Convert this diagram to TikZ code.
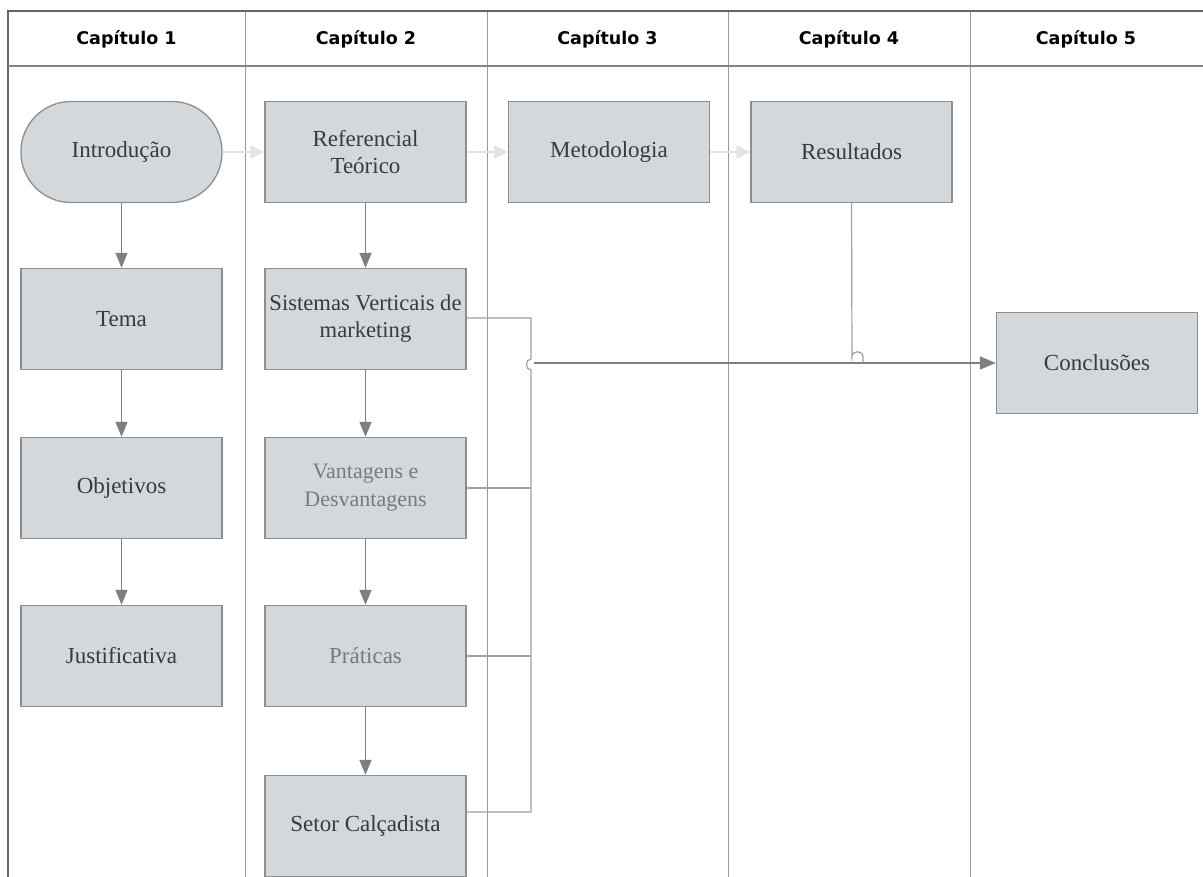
\documentclass[tikz,border=0pt]{standalone}
\usepackage{fontspec}
\usetikzlibrary{arrows.meta}
\newfontfamily\boxfont{Liberation Serif}
\newfontfamily\headfont{DejaVu Sans}
\definecolor{boxfill}{HTML}{D3D8DC}
\definecolor{boxline}{HTML}{8E8E8E}
\definecolor{txt}{HTML}{3A3A3A}
\definecolor{txtlight}{HTML}{7A7A7A}
\definecolor{arr}{HTML}{7F7F7F}
\definecolor{faint}{HTML}{E4E4E4}
\definecolor{lane}{HTML}{9A9A9A}
\definecolor{frame}{HTML}{666666}
\definecolor{link}{HTML}{A0A0A0}
\tikzset{
  stepbox/.style={draw=boxline, fill=boxfill, line width=1.3pt, minimum width=201pt,
    minimum height=101pt, inner sep=0pt, align=center, text=txt,
    font=\boxfont\fontsize{23}{27}\selectfont},
  headtext/.style={font=\headfont\bfseries\fontsize{17.5}{20}\selectfont, text=black},
  vflow/.style={draw=arr, line width=1.3pt, -{Triangle[length=15pt,width=12pt]}},
  hflow/.style={draw=faint, line width=1.5pt, -{Triangle[length=14pt,width=13pt]}},
  linkline/.style={draw=link, line width=1.2pt},
}
\begin{document}
\begin{tikzpicture}[x=1pt,y=-1pt]
\useasboundingbox (0,0) rectangle (1203,877);
% lanes
\foreach \xx in {245,487,728,970} \draw[lane, line width=1pt] (\xx,11) -- (\xx,877);
\draw[frame, line width=2.2pt] (8,877) -- (8,11) -- (1203,11);
\draw[frame!80, line width=2pt] (8,66) -- (1203,66);
% headers
\node[headtext] (h1) at (126.5,39) {Capítulo 1};
\node[headtext] (h2) at (366,39) {Capítulo 2};
\node[headtext] (h3) at (607.5,39) {Capítulo 3};
\node[headtext] (h4) at (849,39) {Capítulo 4};
\node[headtext] (h5) at (1086,39) {Capítulo 5};
% nodes
\node[stepbox, rounded corners=50pt] (intro) at (121.5,152) {Introdução};
\node[stepbox] (ref) at (365.5,152) {Referencial\\Teórico};
\node[stepbox] (met) at (609,152) {Metodologia};
\node[stepbox] (res) at (851.5,152) {Resultados};
\node[stepbox] (tema) at (121.5,319) {Tema};
\node[stepbox] (obj) at (121.5,488) {Objetivos};
\node[stepbox] (just) at (121.5,656) {Justificativa};
\node[stepbox, font=\boxfont\fontsize{22.6}{27}\selectfont] (sist) at (365.5,319) {Sistemas Verticais de\\marketing};
\node[stepbox, text=txtlight, font=\boxfont\fontsize{22}{28}\selectfont] (vant) at (365.5,488) {Vantagens e\\Desvantagens};
\node[stepbox, text=txtlight] (prat) at (365.5,656) {Práticas};
\node[stepbox] (setor) at (365.5,826) {Setor Calçadista};
\node[stepbox] (conc) at (1097,363) {Conclusões};
% top flow
\draw[hflow] (intro) -- (ref);
\draw[hflow] (ref) -- (met);
\draw[hflow] (met) -- (res);
% vertical flows
\draw[vflow] (intro) -- (tema);
\draw[vflow] (tema) -- (obj);
\draw[vflow] (obj) -- (just);
\draw[vflow] (ref) -- (sist);
\draw[vflow] (sist) -- (vant);
\draw[vflow] (vant) -- (prat);
\draw[vflow] (prat) -- (setor);
% collector
\coordinate (c1) at (531,318);
\coordinate (c4) at (531,812);
\coordinate (j) at (534,363);
\draw[linkline] (sist.east |- c1) -- (c1) -- (531,359) .. controls (525,359) and (525,370) .. (531,370) -- (c4) -- (setor.east |- c4);
\draw[linkline] (vant.east) -- (531,488);
\draw[linkline] (prat.east) -- (531,656);
\draw[draw=arr, line width=1.3pt, -{Triangle[length=16pt,width=13pt]}] (j) -- (conc.west);
\draw[linkline] (res.south) -- (852,357) .. controls (852,350) and (863,350) .. (863,357) -- (863,363);
\end{tikzpicture}
\end{document}
